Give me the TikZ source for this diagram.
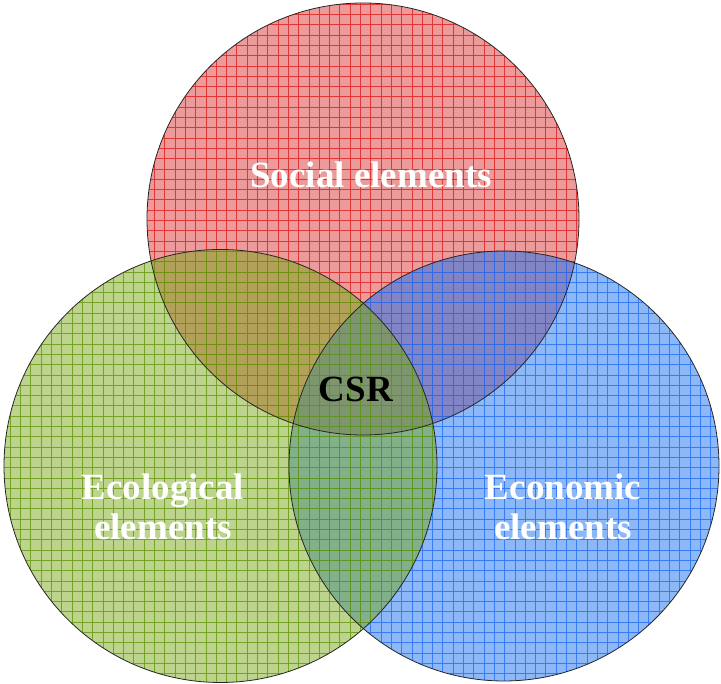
\documentclass[tikz,border=0pt]{standalone}
\usepackage{fontspec}
\setmainfont{Liberation Serif}
\begin{document}
\begin{tikzpicture}[x=1pt,y=1pt,
  lbl/.style={font=\fontsize{37}{40}\selectfont\bfseries, text=white, align=center, inner sep=0pt},
  outline/.style={draw=black!85, line width=0.8pt}]
\definecolor{redfill}{RGB}{217,53,53}
\definecolor{redline}{RGB}{222,30,30}
\definecolor{greenfill}{RGB}{121,169,25}
\definecolor{greenline}{RGB}{100,150,15}
\definecolor{bluefill}{RGB}{25,113,241}
\definecolor{blueline}{RGB}{35,110,245}
\useasboundingbox (0,0) rectangle (721,684);
\coordinate (R) at (363,465);
\coordinate (G) at (220.5,218);
\coordinate (B) at (504,218);
% red
\begin{scope}
\clip (R) circle (216);
\fill[redfill, fill opacity=0.5] (R) circle (216);
\draw[redline, line width=0.9pt, draw opacity=0.8, step=10.3] (0,0) grid (721,684);
\end{scope}
% blue
\begin{scope}
\clip (B) circle (215);
\fill[bluefill, fill opacity=0.5] (B) circle (215);
\draw[blueline, line width=0.9pt, draw opacity=0.8, step=10.3] (0,0) grid (721,684);
\end{scope}
% green
\begin{scope}
\clip (G) circle (216.5);
\fill[greenfill, fill opacity=0.5] (G) circle (216.5);
\draw[greenline, line width=0.9pt, draw opacity=0.8, step=10.3] (0,0) grid (721,684);
\end{scope}
\draw[outline] (R) circle (216);
\draw[outline] (B) circle (215);
\draw[outline] (G) circle (216.5);
\node[lbl] (social) at (371,509) {Social elements};
\node[lbl, text=black] (csr) at (356,295) {CSR};
\node[lbl] (eco) at (163,177) {Ecological\\elements};
\node[lbl] (econ) at (563,177) {Economic\\elements};
\end{tikzpicture}
\end{document}
